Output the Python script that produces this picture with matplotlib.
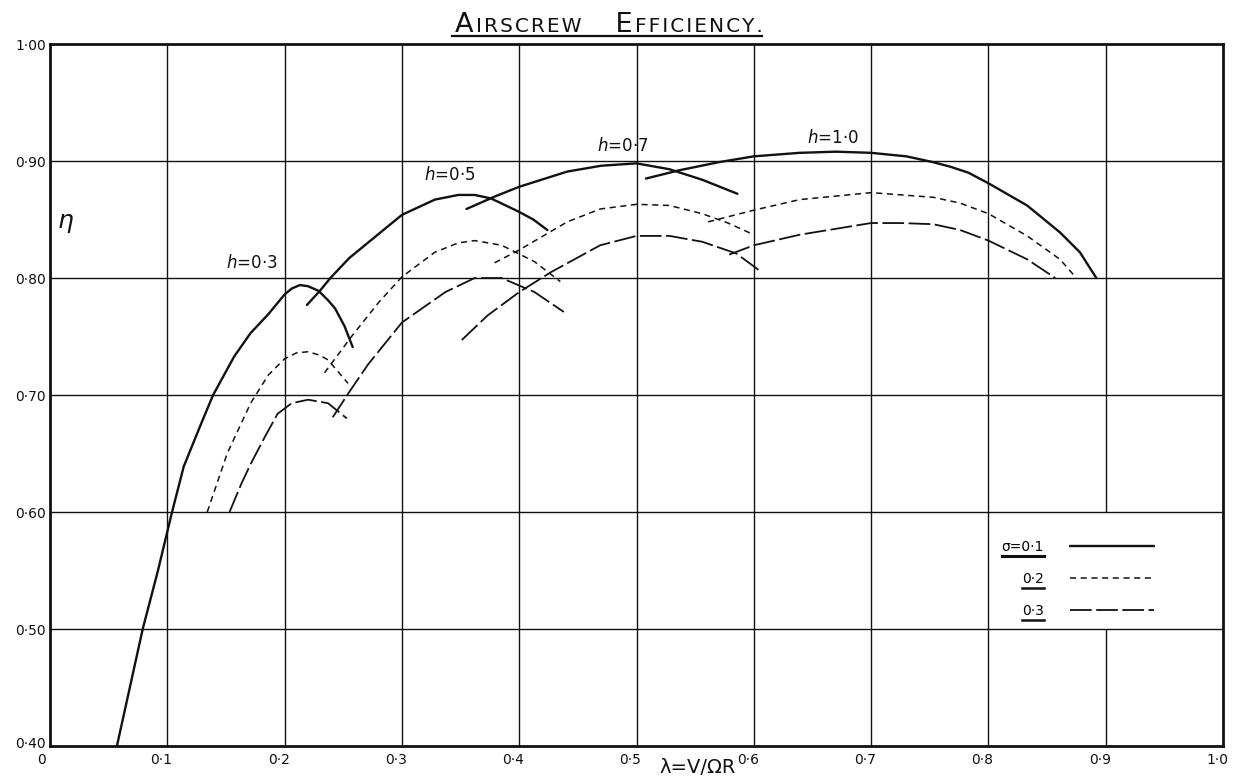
import matplotlib
matplotlib.use('Agg')
import matplotlib.pyplot as plt
from matplotlib.lines import Line2D
from matplotlib.transforms import ScaledTranslation

# sigma = 0.1 (solid)
s1_h03_x = [0.057, 0.068, 0.079, 0.092, 0.104, 0.114, 0.129, 0.139, 0.157, 0.171, 0.186, 0.200, 0.206, 0.213, 0.220, 0.229, 0.237, 0.243, 0.251, 0.258]
s1_h03_y = [0.400, 0.450, 0.500, 0.550, 0.600, 0.639, 0.676, 0.700, 0.733, 0.753, 0.769, 0.786, 0.791, 0.794, 0.793, 0.789, 0.781, 0.774, 0.759, 0.741]
s1_h05_x = [0.219, 0.230, 0.239, 0.255, 0.272, 0.300, 0.328, 0.348, 0.362, 0.376, 0.399, 0.412, 0.424]
s1_h05_y = [0.777, 0.789, 0.800, 0.817, 0.831, 0.854, 0.867, 0.871, 0.871, 0.868, 0.857, 0.850, 0.841]
s1_h07_x = [0.355, 0.380, 0.400, 0.441, 0.470, 0.500, 0.528, 0.556, 0.586]
s1_h07_y = [0.859, 0.870, 0.878, 0.891, 0.896, 0.898, 0.893, 0.884, 0.872]
s1_h10_x = [0.508, 0.536, 0.570, 0.600, 0.639, 0.670, 0.700, 0.730, 0.753, 0.768, 0.783, 0.800, 0.833, 0.861, 0.878, 0.892]
s1_h10_y = [0.885, 0.892, 0.899, 0.904, 0.907, 0.908, 0.907, 0.904, 0.899, 0.895, 0.890, 0.881, 0.862, 0.839, 0.822, 0.800]

# sigma = 0.2 (short dashes)
s2_h03_x = [0.134, 0.151, 0.171, 0.186, 0.200, 0.210, 0.220, 0.230, 0.237, 0.254]
s2_h03_y = [0.600, 0.650, 0.693, 0.717, 0.731, 0.736, 0.737, 0.734, 0.730, 0.710]
s2_h05_x = [0.234, 0.257, 0.280, 0.300, 0.328, 0.348, 0.362, 0.385, 0.413, 0.435]
s2_h05_y = [0.719, 0.750, 0.779, 0.801, 0.822, 0.830, 0.832, 0.828, 0.814, 0.797]
s2_h07_x = [0.379, 0.400, 0.441, 0.469, 0.500, 0.528, 0.556, 0.578, 0.600]
s2_h07_y = [0.813, 0.824, 0.848, 0.859, 0.863, 0.862, 0.855, 0.847, 0.837]
s2_h10_x = [0.561, 0.600, 0.639, 0.700, 0.753, 0.776, 0.800, 0.833, 0.861, 0.875]
s2_h10_y = [0.848, 0.858, 0.867, 0.873, 0.869, 0.864, 0.855, 0.836, 0.816, 0.800]

# sigma = 0.3 (long dashes)
s3_h03_x = [0.153, 0.163, 0.171, 0.183, 0.194, 0.206, 0.220, 0.237, 0.253]
s3_h03_y = [0.600, 0.624, 0.641, 0.664, 0.684, 0.693, 0.696, 0.693, 0.680]
s3_h05_x = [0.241, 0.254, 0.271, 0.300, 0.337, 0.362, 0.385, 0.413, 0.438]
s3_h05_y = [0.681, 0.701, 0.726, 0.762, 0.788, 0.800, 0.800, 0.788, 0.771]
s3_h07_x = [0.351, 0.373, 0.400, 0.427, 0.469, 0.500, 0.528, 0.556, 0.585, 0.604]
s3_h07_y = [0.747, 0.768, 0.788, 0.805, 0.828, 0.836, 0.836, 0.831, 0.821, 0.807]
s3_h10_x = [0.579, 0.600, 0.639, 0.700, 0.725, 0.753, 0.776, 0.800, 0.833, 0.857]
s3_h10_y = [0.820, 0.828, 0.837, 0.847, 0.847, 0.846, 0.841, 0.832, 0.816, 0.800]

x_ticks = [0.0, 0.1, 0.2, 0.3, 0.4, 0.5, 0.6, 0.7, 0.8, 0.9, 1.0]
x_tick_labels = ['0', '0·1', '0·2', '0·3', '0·4', '0·5', '0·6', '0·7', '0·8', '0·9', '1·0']
y_ticks = [0.4, 0.5, 0.6, 0.7, 0.8, 0.9, 1.0]
y_tick_labels = ['0·40', '0·50', '0·60', '0·70', '0·80', '0·90', '1·00']
legend_labels = ['σ=0·1', '0·2', '0·3']
h_labels = ['$h$=0·3', '$h$=0·5', '$h$=0·7', '$h$=1·0']

ink = '#111111'
fig = plt.figure(figsize=(12.39, 7.82), dpi=100)
ax = fig.add_axes([0.0404, 0.046, 0.9467, 0.8977])
ax.set_xlim(0, 1)
ax.set_ylim(0.4, 1.0)

# hand-ruled grid; the 0.9 line is broken where the key sits
for xv in x_ticks[1:-1]:
    if xv == 0.9:
        ax.vlines([xv, xv], [0.4, 0.6], [0.5, 1.0], color=ink, lw=1.0, zorder=1)
    else:
        ax.axvline(xv, color=ink, lw=1.0, zorder=1)
for yv in y_ticks[1:-1]:
    ax.axhline(yv, color=ink, lw=1.0, zorder=1)

solid = dict(color=ink, lw=1.7, ls='-', solid_joinstyle='round', solid_capstyle='round')
short = dict(color=ink, lw=1.1, ls=(0, (4, 3)), dash_joinstyle='round')
long_ = dict(color=ink, lw=1.3, ls=(0, (12, 2.5)), dash_joinstyle='round')

l1, = ax.plot(s1_h03_x, s1_h03_y, **solid)
ax.plot(s1_h05_x, s1_h05_y, **solid)
ax.plot(s1_h07_x, s1_h07_y, **solid)
ax.plot(s1_h10_x, s1_h10_y, **solid)
l2, = ax.plot(s2_h03_x, s2_h03_y, **short)
ax.plot(s2_h05_x, s2_h05_y, **short)
ax.plot(s2_h07_x, s2_h07_y, **short)
ax.plot(s2_h10_x, s2_h10_y, **short)
l3, = ax.plot(s3_h03_x, s3_h03_y, **long_)
ax.plot(s3_h05_x, s3_h05_y, **long_)
ax.plot(s3_h07_x, s3_h07_y, **long_)
ax.plot(s3_h10_x, s3_h10_y, **long_)

for lab, (tx, ty) in zip(h_labels, [(0.172, 0.813), (0.341, 0.888), (0.488, 0.913), (0.667, 0.920)]):
    ax.text(tx, ty, lab, ha='center', va='center', fontsize=12, color=ink)

ax.set_xticks(x_ticks)
ax.set_xticklabels(x_tick_labels)
ax.set_yticks(y_ticks)
ax.set_yticklabels(y_tick_labels)
ax.tick_params(length=0, labelsize=10, colors=ink)
ax.tick_params(axis='x', pad=5)
ax.tick_params(axis='y', pad=3)
shift = ScaledTranslation(-6 / 100, 0, fig.dpi_scale_trans)
for t in ax.get_xticklabels():
    t.set_transform(t.get_transform() + shift)
xl0 = ax.get_xticklabels()[0]
xl0.set_transform(xl0.get_transform() + ScaledTranslation(-3 / 100, 0, fig.dpi_scale_trans))
yl0 = ax.get_yticklabels()[0]
yl0.set_transform(yl0.get_transform() + ScaledTranslation(0, 4 / 100, fig.dpi_scale_trans))

for sp in ax.spines.values():
    sp.set_linewidth(2.0)
    sp.set_color(ink)

ax.set_xlabel('λ=V/ΩR', fontsize=14, color=ink, va='top', ha='center')
ax.xaxis.set_label_coords(0.552, -0.017)
ax.set_ylabel(r'$\eta$', fontsize=18, rotation=0, color=ink, va='center', ha='center')
ax.yaxis.set_label_coords(0.0128, 0.745)

leg = ax.legend([l1, l2, l3], legend_labels, markerfirst=False, frameon=False,
                fontsize=10, handlelength=6, handletextpad=1.9, labelspacing=1.3,
                loc='center', bbox_to_anchor=(0.876, 0.238))

# small-caps title, letters spread with hair spaces
hs = '\u200a'
parts = [('A', 19.5), (hs + hs.join('IRSCREW'), 14.5), ('    E', 19.5), (hs + hs.join('FFICIENCY.'), 14.5)]
base_y = 1 - 32 / 782
first = fig.text(455 / 1239, base_y, parts[0][0], fontsize=parts[0][1], ha='left', va='baseline', color=ink)
prev = first
for s, fs in parts[1:]:
    prev = ax.annotate(s, xy=(1, base_y), xycoords=(prev, 'figure fraction'), ha='left',
                       va='baseline', fontsize=fs, color=ink, annotation_clip=False)
last = prev

fig.canvas.draw()
r = fig.canvas.get_renderer()
inv = fig.transFigure.inverted()
b0 = first.get_window_extent(r)
b1 = last.get_window_extent(r)
(x0, _), (x1, _) = inv.transform([(b0.x0 - 3, 0), (b1.x1, 0)])
fig.add_artist(Line2D([x0, x1], [1 - 36 / 782] * 2, color=ink, lw=1.6))
for i, t in enumerate(leg.get_texts()):
    bb = t.get_window_extent(r)
    (ux0, uy), (ux1, _) = inv.transform([(bb.x0, bb.y0 - 2), (bb.x1, bb.y0 - 2)])
    fig.add_artist(Line2D([ux0, ux1], [uy, uy], color=ink, lw=2.2 if i == 0 else 1.8))

fig.savefig('out.png', dpi=100, facecolor='white')
